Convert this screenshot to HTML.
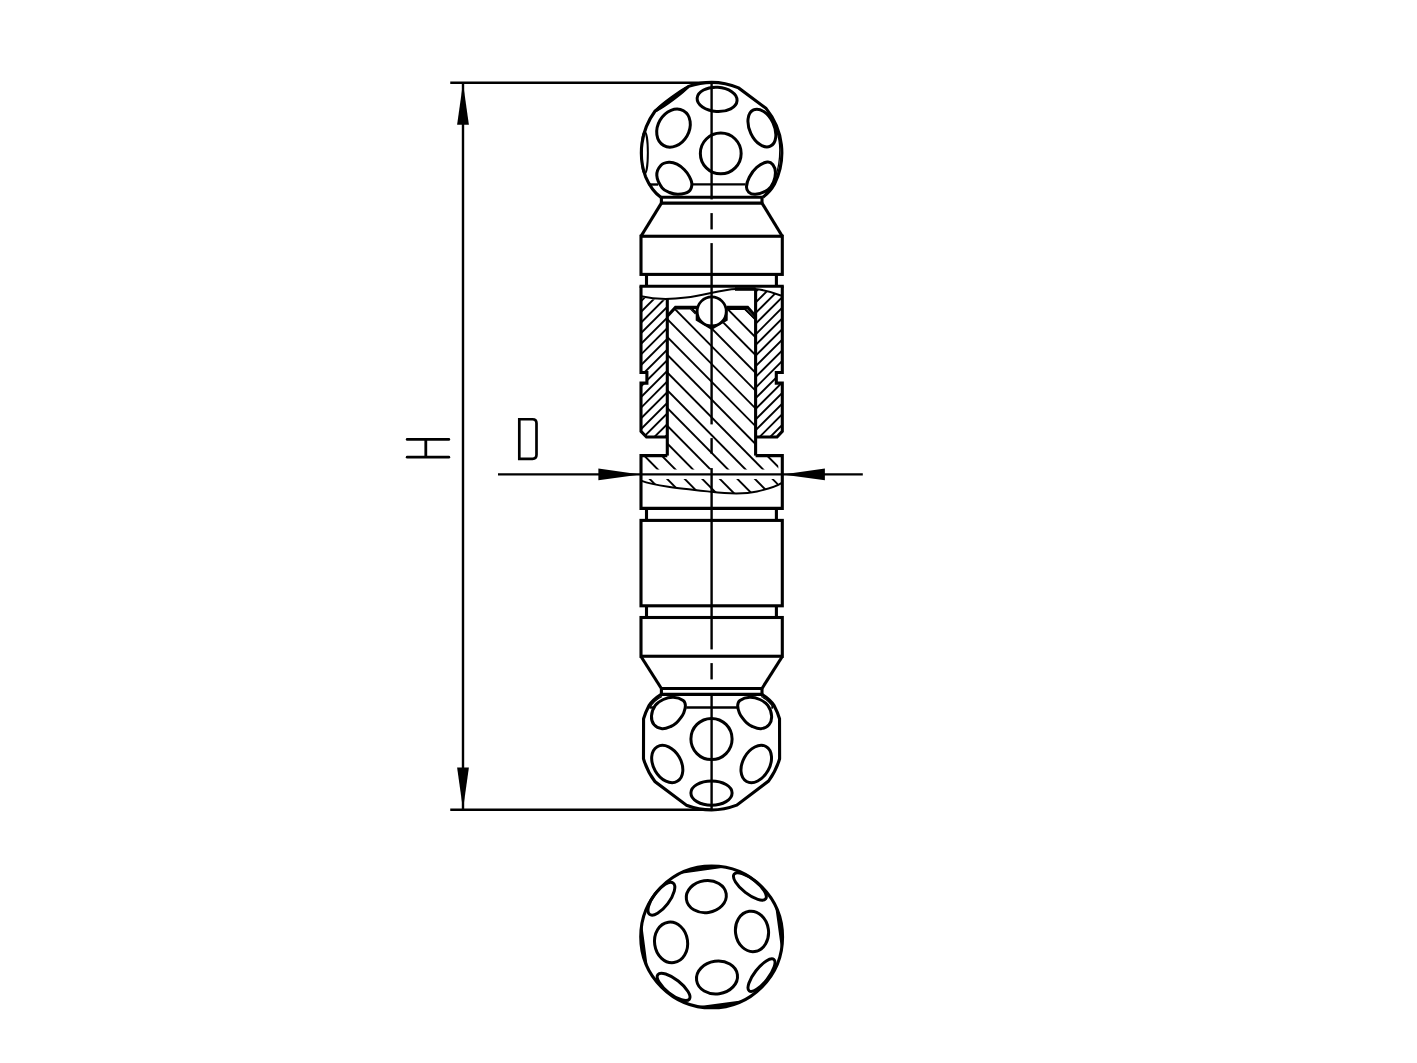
<!DOCTYPE html>
<html><head><meta charset="utf-8"><title>Drawing</title>
<style>
html,body{margin:0;padding:0;background:#fff;font-family:"Liberation Sans",sans-serif;}
svg{display:block}
</style></head>
<body>
<svg width="1417" height="1063" viewBox="0 0 1417 1063" fill="none" stroke="#000" stroke-linecap="butt" stroke-linejoin="miter">
<rect x="0" y="0" width="1417" height="1063" fill="#fff" stroke="none"/>
<path d="M766,108.4 C774,120 779.8,136 779.8,150 C779.8,168 774,185 763.5,196.5" stroke-width="1.3" fill="none" />
<path d="M660.8,197.25 Q651.5,190.5 645.50,176.53 A70.25,70.25 0 0 1 654.95,111.21 L688.57,86.38 A70.25,70.25 0 0 1 738.59,87.89 L766.05,108.37 A70.25,70.25 0 0 1 774.51,184.01 Q770.5,191.5 762.9,197.25" stroke-width="3.1" fill="none" />
<ellipse cx="671.76" cy="98.80" rx="20.90" ry="1.8" transform="rotate(-36.4 671.76 98.80)" stroke-width="1.6" fill="#000"/>
<ellipse cx="717.10" cy="99.40" rx="20.00" ry="12.10" transform="rotate(3.5 717.10 99.40)" stroke-width="3.0"/>
<ellipse cx="673.50" cy="128.10" rx="15.60" ry="20.00" transform="rotate(30 673.50 128.10)" stroke-width="3.0"/>
<ellipse cx="761.90" cy="128.10" rx="12.25" ry="20.00" transform="rotate(-25 761.90 128.10)" stroke-width="3.0"/>
<ellipse cx="720.75" cy="153.40" rx="20.40" ry="20.40" transform="rotate(0 720.75 153.40)" stroke-width="3.0"/>
<path d="M668.90,162.30 C666.20,162.50 662.82,163.22 660.80,165.40 C658.78,167.58 656.58,171.67 656.80,175.40 C657.02,179.13 659.98,184.95 662.10,187.80 C664.22,190.65 666.82,191.42 669.50,192.50 C672.18,193.58 674.98,194.47 678.20,194.30 C681.42,194.13 686.52,193.20 688.80,191.50 C691.08,189.80 691.80,186.58 691.90,184.10 C692.00,181.62 690.65,178.98 689.40,176.60 C688.15,174.22 686.47,171.87 684.40,169.80 C682.33,167.73 679.58,165.45 677.00,164.20 C674.42,162.95 671.60,162.10 668.90,162.30 Z" stroke-width="3.0" fill="none" />
<path d="M767.30,162.00 C770.00,161.58 771.55,163.08 772.90,164.80 C774.25,166.52 775.30,169.40 775.40,172.30 C775.50,175.20 774.75,179.30 773.50,182.20 C772.25,185.10 770.90,187.68 767.90,189.70 C764.90,191.72 758.72,193.90 755.50,194.30 C752.28,194.70 750.10,193.38 748.60,192.10 C747.10,190.82 746.38,189.08 746.50,186.60 C746.62,184.12 747.60,180.42 749.30,177.20 C751.00,173.98 753.70,169.83 756.70,167.30 C759.70,164.77 764.60,162.42 767.30,162.00 Z" stroke-width="3.0" fill="none" />
<ellipse cx="644.75" cy="152.75" rx="3.10" ry="20.60" transform="rotate(0 644.75 152.75)" stroke-width="2.0"/>
<line x1="648.60" y1="184.50" x2="658.00" y2="184.50" stroke-width="2.4" />
<line x1="693.00" y1="184.40" x2="745.60" y2="184.40" stroke-width="2.4" />
<line x1="660.80" y1="197.25" x2="762.90" y2="197.25" stroke-width="3.1" />
<line x1="660.80" y1="203.10" x2="762.90" y2="203.10" stroke-width="3.1" />
<line x1="661.40" y1="197.25" x2="661.40" y2="203.10" stroke-width="3.1" />
<line x1="762.00" y1="197.25" x2="762.00" y2="203.10" stroke-width="3.1" />
<line x1="661.40" y1="203.10" x2="641.00" y2="236.20" stroke-width="3.1" />
<line x1="762.00" y1="203.10" x2="782.30" y2="236.20" stroke-width="3.1" />
<rect x="641" y="236.25" width="141.3" height="38.15" stroke-width="3.1"/>
<line x1="646.50" y1="274.40" x2="646.50" y2="286.25" stroke-width="3.1" />
<line x1="776.40" y1="274.40" x2="776.40" y2="286.25" stroke-width="3.1" />
<path d="M667.3,437 L646.5,437 L641,431.3 L641,383.1 L646.9,383.1 L646.9,372.5 L641,372.5 L641,286.25" stroke-width="3.1" fill="none" />
<path d="M755.6,437 L777,437 L782.3,431.3 L782.3,383.1 L776.3,383.1 L776.3,372.5 L782.3,372.5 L782.3,286.25" stroke-width="3.1" fill="none" />
<line x1="639.50" y1="286.25" x2="783.80" y2="286.25" stroke-width="3.1" />
<path d="M641,296.3 C655,299.5 670,299.6 686,297.5 C705,295 722,289.5 736,289 L755,289 C765,290 775,293 782.3,296" stroke-width="2.0" fill="none" />
<line x1="735.00" y1="289.00" x2="755.60" y2="289.00" stroke-width="3.6" />
<line x1="667.30" y1="299.00" x2="667.30" y2="455.60" stroke-width="3.1" />
<line x1="755.60" y1="289.00" x2="755.60" y2="455.60" stroke-width="3.1" />
<clipPath id="cSL"><path d="M642,297.5 C655,300.3 662,300.3 667.3,300 L667.3,437 L646.5,437 L641,431.3 L641,383.1 L646.9,383.1 L646.9,372.5 L641,372.5 Z"/></clipPath>
<clipPath id="cSR"><path d="M755.6,289 C765,290 775,293 782.3,296 L782.3,372.5 L776.3,372.5 L776.3,383.1 L782.3,383.1 L782.3,431.3 L777,437 L755.6,437 Z"/></clipPath>
<g clip-path="url(#cSL)">
<line x1="640.00" y1="270.30" x2="668.00" y2="242.30" stroke-width="1.9" />
<line x1="640.00" y1="280.95" x2="668.00" y2="252.95" stroke-width="1.9" />
<line x1="640.00" y1="291.60" x2="668.00" y2="263.60" stroke-width="1.9" />
<line x1="640.00" y1="302.25" x2="668.00" y2="274.25" stroke-width="1.9" />
<line x1="640.00" y1="312.90" x2="668.00" y2="284.90" stroke-width="1.9" />
<line x1="640.00" y1="323.55" x2="668.00" y2="295.55" stroke-width="1.9" />
<line x1="640.00" y1="334.20" x2="668.00" y2="306.20" stroke-width="1.9" />
<line x1="640.00" y1="344.85" x2="668.00" y2="316.85" stroke-width="1.9" />
<line x1="640.00" y1="355.50" x2="668.00" y2="327.50" stroke-width="1.9" />
<line x1="640.00" y1="366.15" x2="668.00" y2="338.15" stroke-width="1.9" />
<line x1="640.00" y1="376.80" x2="668.00" y2="348.80" stroke-width="1.9" />
<line x1="640.00" y1="387.45" x2="668.00" y2="359.45" stroke-width="1.9" />
<line x1="640.00" y1="398.10" x2="668.00" y2="370.10" stroke-width="1.9" />
<line x1="640.00" y1="408.75" x2="668.00" y2="380.75" stroke-width="1.9" />
<line x1="640.00" y1="419.40" x2="668.00" y2="391.40" stroke-width="1.9" />
<line x1="640.00" y1="430.05" x2="668.00" y2="402.05" stroke-width="1.9" />
<line x1="640.00" y1="440.70" x2="668.00" y2="412.70" stroke-width="1.9" />
<line x1="640.00" y1="451.35" x2="668.00" y2="423.35" stroke-width="1.9" />
<line x1="640.00" y1="462.00" x2="668.00" y2="434.00" stroke-width="1.9" />
<line x1="640.00" y1="472.65" x2="668.00" y2="444.65" stroke-width="1.9" />
<line x1="640.00" y1="483.30" x2="668.00" y2="455.30" stroke-width="1.9" />
<line x1="640.00" y1="493.95" x2="668.00" y2="465.95" stroke-width="1.9" />
<line x1="640.00" y1="504.60" x2="668.00" y2="476.60" stroke-width="1.9" />
<line x1="640.00" y1="515.25" x2="668.00" y2="487.25" stroke-width="1.9" />
<line x1="640.00" y1="525.90" x2="668.00" y2="497.90" stroke-width="1.9" />
<line x1="640.00" y1="536.55" x2="668.00" y2="508.55" stroke-width="1.9" />
<line x1="640.00" y1="547.20" x2="668.00" y2="519.20" stroke-width="1.9" />
<line x1="640.00" y1="557.85" x2="668.00" y2="529.85" stroke-width="1.9" />
<line x1="640.00" y1="568.50" x2="668.00" y2="540.50" stroke-width="1.9" />
<line x1="640.00" y1="579.15" x2="668.00" y2="551.15" stroke-width="1.9" />
<line x1="640.00" y1="589.80" x2="668.00" y2="561.80" stroke-width="1.9" />
</g>
<g clip-path="url(#cSR)">
<line x1="755.00" y1="153.95" x2="783.00" y2="125.95" stroke-width="1.9" />
<line x1="755.00" y1="164.60" x2="783.00" y2="136.60" stroke-width="1.9" />
<line x1="755.00" y1="175.25" x2="783.00" y2="147.25" stroke-width="1.9" />
<line x1="755.00" y1="185.90" x2="783.00" y2="157.90" stroke-width="1.9" />
<line x1="755.00" y1="196.55" x2="783.00" y2="168.55" stroke-width="1.9" />
<line x1="755.00" y1="207.20" x2="783.00" y2="179.20" stroke-width="1.9" />
<line x1="755.00" y1="217.85" x2="783.00" y2="189.85" stroke-width="1.9" />
<line x1="755.00" y1="228.50" x2="783.00" y2="200.50" stroke-width="1.9" />
<line x1="755.00" y1="239.15" x2="783.00" y2="211.15" stroke-width="1.9" />
<line x1="755.00" y1="249.80" x2="783.00" y2="221.80" stroke-width="1.9" />
<line x1="755.00" y1="260.45" x2="783.00" y2="232.45" stroke-width="1.9" />
<line x1="755.00" y1="271.10" x2="783.00" y2="243.10" stroke-width="1.9" />
<line x1="755.00" y1="281.75" x2="783.00" y2="253.75" stroke-width="1.9" />
<line x1="755.00" y1="292.40" x2="783.00" y2="264.40" stroke-width="1.9" />
<line x1="755.00" y1="303.05" x2="783.00" y2="275.05" stroke-width="1.9" />
<line x1="755.00" y1="313.70" x2="783.00" y2="285.70" stroke-width="1.9" />
<line x1="755.00" y1="324.35" x2="783.00" y2="296.35" stroke-width="1.9" />
<line x1="755.00" y1="335.00" x2="783.00" y2="307.00" stroke-width="1.9" />
<line x1="755.00" y1="345.65" x2="783.00" y2="317.65" stroke-width="1.9" />
<line x1="755.00" y1="356.30" x2="783.00" y2="328.30" stroke-width="1.9" />
<line x1="755.00" y1="366.95" x2="783.00" y2="338.95" stroke-width="1.9" />
<line x1="755.00" y1="377.60" x2="783.00" y2="349.60" stroke-width="1.9" />
<line x1="755.00" y1="388.25" x2="783.00" y2="360.25" stroke-width="1.9" />
<line x1="755.00" y1="398.90" x2="783.00" y2="370.90" stroke-width="1.9" />
<line x1="755.00" y1="409.55" x2="783.00" y2="381.55" stroke-width="1.9" />
<line x1="755.00" y1="420.20" x2="783.00" y2="392.20" stroke-width="1.9" />
<line x1="755.00" y1="430.85" x2="783.00" y2="402.85" stroke-width="1.9" />
<line x1="755.00" y1="441.50" x2="783.00" y2="413.50" stroke-width="1.9" />
<line x1="755.00" y1="452.15" x2="783.00" y2="424.15" stroke-width="1.9" />
<line x1="755.00" y1="462.80" x2="783.00" y2="434.80" stroke-width="1.9" />
<line x1="755.00" y1="473.45" x2="783.00" y2="445.45" stroke-width="1.9" />
<line x1="755.00" y1="484.10" x2="783.00" y2="456.10" stroke-width="1.9" />
</g>
<path d="M667.3,316.2 L675.5,307.4 L697,307.4 M726.4,307.4 L747.6,307.4 L755.6,316.2" stroke-width="3.1" fill="none" />
<path d="M696.9,307.4 L696.9,319.9 L711.6,328.7 L726.5,319.9 L726.5,307.4" stroke-width="2.4" fill="#000" />
<circle cx="711.7" cy="311.4" r="14.5" stroke-width="2.7" fill="#fff"/>
<path d="M676.5,309 L690.5,309 L695.5,314" stroke-width="1.2" fill="none" />
<path d="M727.8,309.3 L744.7,309.3 L754.7,318.8" stroke-width="1.3" fill="none" />
<path d="M667.3,455.6 L641,455.6 L641,508.4 L782.3,508.4 L782.3,455.6 L755.6,455.6" stroke-width="3.1" fill="none" />
<path d="M641,480.6 C655,486 680,488.5 711,491.8 C730,494 745,494.2 757,491.5 C768,489 777,486 782.3,482.6" stroke-width="1.9" fill="none" />
<clipPath id="cP"><path d="M667.3,316.2 L675.5,307.4 L696,307.4 L696,320.8 L711.6,329.2 L727.2,320.8 L727.2,307.4 L747.6,307.4 L755.6,316.2 L755.6,455.6 L778.3,455.6 L778.3,469.5 L641,469.5 L641,455.6 L667.3,455.6 Z"/><path d="M641,479 L641,480.6 C655,486 680,488.5 711,491.8 C730,494 745,494.2 757,491.5 C768,489 774,487.2 778.3,485 L778.3,479 Z"/></clipPath>
<g clip-path="url(#cP)">
<line x1="630.00" y1="68.15" x2="800.00" y2="240.19" stroke-width="1.9" />
<line x1="630.00" y1="85.92" x2="800.00" y2="257.96" stroke-width="1.9" />
<line x1="630.00" y1="103.69" x2="800.00" y2="275.73" stroke-width="1.9" />
<line x1="630.00" y1="121.46" x2="800.00" y2="293.50" stroke-width="1.9" />
<line x1="630.00" y1="139.23" x2="800.00" y2="311.27" stroke-width="1.9" />
<line x1="630.00" y1="157.00" x2="800.00" y2="329.04" stroke-width="1.9" />
<line x1="630.00" y1="174.77" x2="800.00" y2="346.81" stroke-width="1.9" />
<line x1="630.00" y1="192.54" x2="800.00" y2="364.58" stroke-width="1.9" />
<line x1="630.00" y1="210.31" x2="800.00" y2="382.35" stroke-width="1.9" />
<line x1="630.00" y1="228.08" x2="800.00" y2="400.12" stroke-width="1.9" />
<line x1="630.00" y1="245.85" x2="800.00" y2="417.89" stroke-width="1.9" />
<line x1="630.00" y1="263.62" x2="800.00" y2="435.66" stroke-width="1.9" />
<line x1="630.00" y1="281.39" x2="800.00" y2="453.43" stroke-width="1.9" />
<line x1="630.00" y1="299.16" x2="800.00" y2="471.20" stroke-width="1.9" />
<line x1="630.00" y1="316.93" x2="800.00" y2="488.97" stroke-width="1.9" />
<line x1="630.00" y1="334.70" x2="800.00" y2="506.74" stroke-width="1.9" />
<line x1="630.00" y1="352.47" x2="800.00" y2="524.51" stroke-width="1.9" />
<line x1="630.00" y1="370.24" x2="800.00" y2="542.28" stroke-width="1.9" />
<line x1="630.00" y1="388.01" x2="800.00" y2="560.05" stroke-width="1.9" />
<line x1="630.00" y1="405.78" x2="800.00" y2="577.82" stroke-width="1.9" />
<line x1="630.00" y1="423.55" x2="800.00" y2="595.59" stroke-width="1.9" />
<line x1="630.00" y1="441.32" x2="800.00" y2="613.36" stroke-width="1.9" />
<line x1="630.00" y1="459.09" x2="800.00" y2="631.13" stroke-width="1.9" />
<line x1="630.00" y1="476.86" x2="800.00" y2="648.90" stroke-width="1.9" />
<line x1="630.00" y1="494.63" x2="800.00" y2="666.67" stroke-width="1.9" />
<line x1="630.00" y1="512.40" x2="800.00" y2="684.44" stroke-width="1.9" />
</g>
<line x1="646.50" y1="508.40" x2="646.50" y2="520.40" stroke-width="3.1" />
<line x1="776.40" y1="508.40" x2="776.40" y2="520.40" stroke-width="3.1" />
<rect x="641" y="520.4" width="141.3" height="85.4" stroke-width="3.1"/>
<line x1="646.50" y1="605.80" x2="646.50" y2="617.50" stroke-width="3.1" />
<line x1="776.40" y1="605.80" x2="776.40" y2="617.50" stroke-width="3.1" />
<rect x="641" y="617.5" width="141.3" height="38.75" stroke-width="3.1"/>
<line x1="641.00" y1="656.50" x2="661.40" y2="688.50" stroke-width="3.1" />
<line x1="782.30" y1="656.50" x2="762.00" y2="688.50" stroke-width="3.1" />
<line x1="660.80" y1="688.50" x2="762.90" y2="688.50" stroke-width="3.1" />
<line x1="660.80" y1="694.40" x2="762.90" y2="694.40" stroke-width="3.1" />
<line x1="661.40" y1="688.50" x2="661.40" y2="694.40" stroke-width="3.1" />
<line x1="762.00" y1="688.50" x2="762.00" y2="694.40" stroke-width="3.1" />
<path d="M661.25,694.40 Q653,699.5 648.78,705.93 A70.9,70.9 0 0 0 643.57,718.77 L643.49,758.75 A70.9,70.9 0 0 0 654.90,781.53 L686.41,805.19 A70.9,70.9 0 0 0 736.74,805.17 L768.53,781.09 A70.9,70.9 0 0 0 779.61,758.75 L779.53,718.77 A70.9,70.9 0 0 0 774.18,705.68 Q770,699.5 761.90,694.40" stroke-width="3.1" fill="none" />
<path d="M673.30,697.30 C676.62,697.45 681.18,699.05 683.20,700.40 C685.22,701.75 685.30,703.33 685.40,705.40 C685.50,707.47 684.58,710.72 683.80,712.80 C683.02,714.88 681.93,716.23 680.70,717.90 C679.47,719.57 678.05,721.37 676.40,722.80 C674.75,724.23 673.18,725.52 670.80,726.50 C668.42,727.48 664.90,729.02 662.10,728.70 C659.30,728.38 655.77,726.72 654.00,724.60 C652.23,722.48 651.28,719.20 651.50,716.00 C651.72,712.80 653.33,708.15 655.30,705.40 C657.27,702.65 660.30,700.85 663.30,699.50 C666.30,698.15 669.98,697.15 673.30,697.30 Z" stroke-width="3.0" fill="none" />
<path d="M749.80,697.30 C746.48,697.45 741.92,699.05 739.90,700.40 C737.88,701.75 737.80,703.33 737.70,705.40 C737.60,707.47 738.52,710.72 739.30,712.80 C740.08,714.88 741.17,716.23 742.40,717.90 C743.63,719.57 745.05,721.37 746.70,722.80 C748.35,724.23 749.92,725.52 752.30,726.50 C754.68,727.48 758.20,729.02 761.00,728.70 C763.80,728.38 767.33,726.72 769.10,724.60 C770.87,722.48 771.82,719.20 771.60,716.00 C771.38,712.80 769.77,708.15 767.80,705.40 C765.83,702.65 762.80,700.85 759.80,699.50 C756.80,698.15 753.12,697.15 749.80,697.30 Z" stroke-width="3.0" fill="none" />
<ellipse cx="711.50" cy="739.00" rx="20.60" ry="20.60" transform="rotate(0 711.50 739.00)" stroke-width="3.0"/>
<ellipse cx="667.25" cy="764.00" rx="13.80" ry="20.00" transform="rotate(-30 667.25 764.00)" stroke-width="3.0"/>
<ellipse cx="756.25" cy="764.00" rx="13.50" ry="20.00" transform="rotate(29 756.25 764.00)" stroke-width="3.0"/>
<ellipse cx="711.50" cy="793.10" rx="20.60" ry="12.10" transform="rotate(0 711.50 793.10)" stroke-width="3.0"/>
<line x1="649.40" y1="707.50" x2="653.10" y2="707.50" stroke-width="2.4" />
<line x1="686.25" y1="707.50" x2="737.50" y2="707.50" stroke-width="2.4" />
<line x1="771.25" y1="707.50" x2="773.10" y2="707.50" stroke-width="2.4" />
<path d="M650,707.5 Q654,700.5 662,696.5" stroke-width="1.3" fill="none" />
<path d="M773.2,707.5 Q769.2,700.5 761.2,696.5" stroke-width="1.3" fill="none" />
<line x1="711.60" y1="83.00" x2="711.60" y2="199.40" stroke-width="2.4" />
<line x1="711.60" y1="213.10" x2="711.60" y2="229.40" stroke-width="2.4" />
<line x1="711.60" y1="243.10" x2="711.60" y2="424.40" stroke-width="2.4" />
<line x1="711.60" y1="438.10" x2="711.60" y2="453.75" stroke-width="2.4" />
<line x1="711.60" y1="468.10" x2="711.60" y2="649.40" stroke-width="2.4" />
<line x1="711.60" y1="663.10" x2="711.60" y2="679.40" stroke-width="2.4" />
<line x1="711.60" y1="693.10" x2="711.60" y2="809.75" stroke-width="2.4" />
<line x1="450.25" y1="82.75" x2="711.60" y2="82.75" stroke-width="2.4" />
<line x1="450.25" y1="809.75" x2="711.60" y2="809.75" stroke-width="2.4" />
<line x1="463.00" y1="83.00" x2="463.00" y2="809.50" stroke-width="2.4" />
<path d="M463,83 L457.1,124.75 L468.9,124.75 Z" fill="#000" stroke="none"/>
<path d="M463,809.5 L457.1,767.5 L468.9,767.5 Z" fill="#000" stroke="none"/>
<line x1="498.00" y1="474.40" x2="862.80" y2="474.40" stroke-width="2.4" />
<path d="M640.5,474.4 L598.4,468.6 L598.4,480.2 Z" fill="#000" stroke="none"/>
<path d="M782.5,474.4 L824.9,468.6 L824.9,480.2 Z" fill="#000" stroke="none"/>
<line x1="407.20" y1="439.40" x2="448.80" y2="439.40" stroke-width="2.8" stroke-linecap="round"/>
<line x1="407.20" y1="457.20" x2="448.80" y2="457.20" stroke-width="2.8" stroke-linecap="round"/>
<line x1="425.80" y1="439.40" x2="425.80" y2="457.20" stroke-width="2.8" />
<path d="M519.3,419.25 H532.5 Q536.5,419.25 536.5,423.25 V454.8 Q536.5,458.8 532.5,458.8 H519.3 Z" stroke-width="2.7" fill="none" />
<circle cx="711.65" cy="936.9" r="70.9" stroke-width="3.1"/>
<ellipse cx="661.40" cy="898.75" rx="19.60" ry="8.00" transform="rotate(-53 661.40 898.75)" stroke-width="3.0"/>
<ellipse cx="706.30" cy="896.60" rx="20.10" ry="16.00" transform="rotate(-8 706.30 896.60)" stroke-width="3.0"/>
<ellipse cx="749.90" cy="886.50" rx="20.00" ry="7.50" transform="rotate(38 749.90 886.50)" stroke-width="3.0"/>
<ellipse cx="752.00" cy="931.40" rx="16.50" ry="20.30" transform="rotate(-8 752.00 931.40)" stroke-width="3.0"/>
<ellipse cx="671.10" cy="942.40" rx="16.50" ry="20.40" transform="rotate(-8 671.10 942.40)" stroke-width="3.0"/>
<ellipse cx="717.00" cy="977.50" rx="20.60" ry="16.30" transform="rotate(-8 717.00 977.50)" stroke-width="3.0"/>
<ellipse cx="673.60" cy="986.90" rx="20.00" ry="7.50" transform="rotate(38 673.60 986.90)" stroke-width="3.0"/>
<ellipse cx="761.50" cy="975.10" rx="20.00" ry="7.00" transform="rotate(-52 761.50 975.10)" stroke-width="3.0"/>
<path d="M680.88,873.02 A70.9,70.9 0 0 1 723.58,867.01 Z" fill="#000" stroke-width="1.6"/>
<path d="M646.79,965.53 A70.9,70.9 0 0 1 641.59,926.03 Z" fill="#000" stroke-width="1.6"/>
<path d="M776.18,907.52 A70.9,70.9 0 0 1 781.71,947.78 Z" fill="#000" stroke-width="1.6"/>
<path d="M741.13,1001.38 A70.9,70.9 0 0 1 700.19,1006.87 Z" fill="#000" stroke-width="1.6"/>
</svg>
</body></html>
